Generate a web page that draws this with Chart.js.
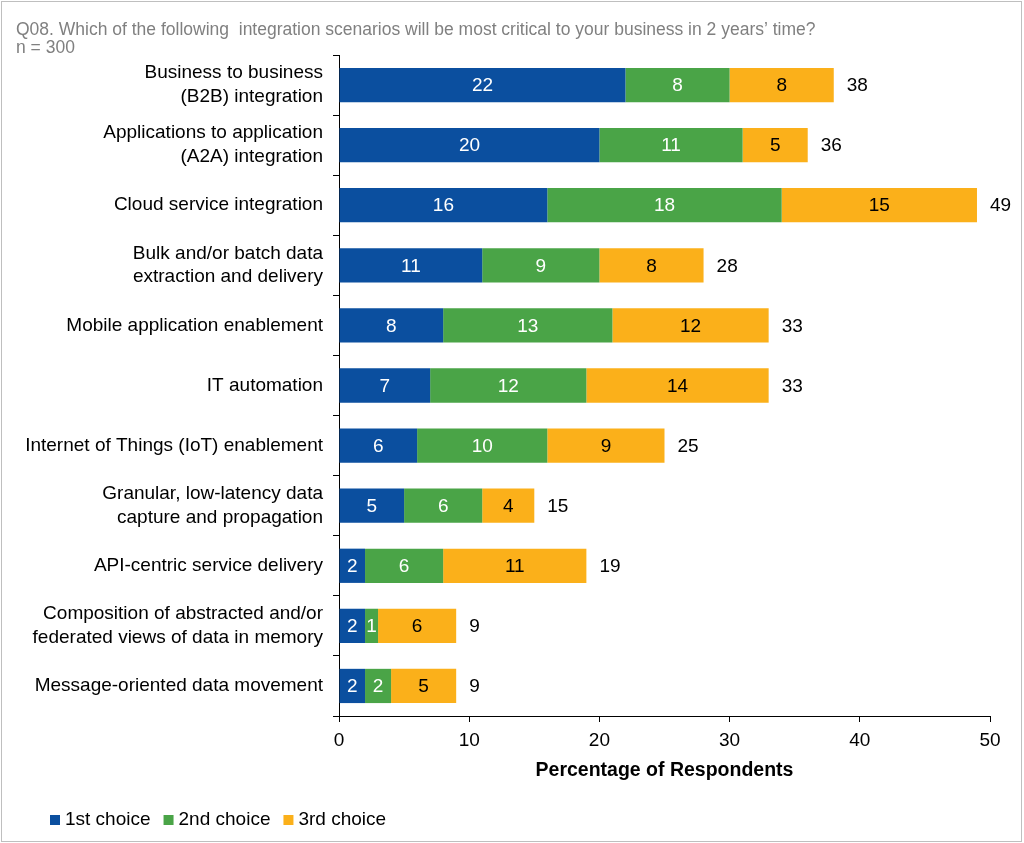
<!DOCTYPE html>
<html>
<head>
<meta charset="utf-8">
<title>Integration scenarios</title>
<script src="https://cdn.jsdelivr.net/npm/chart.js@4/dist/chart.umd.min.js"></script>
<style>
  body { margin: 0; background: #fff; }
  canvas { display: block; }
</style>
</head>
<body>
<canvas id="grafico" width="1024" height="843"></canvas>
<script>
// Dados
const categorias = [
  ['Business to business', '(B2B) integration'],
  ['Applications to application', '(A2A) integration'],
  'Cloud service integration',
  ['Bulk and/or batch data', 'extraction and delivery'],
  'Mobile application enablement',
  'IT automation',
  'Internet of Things (IoT) enablement',
  ['Granular, low-latency data', 'capture and propagation'],
  'API-centric service delivery',
  ['Composition of abstracted and/or', 'federated views of data in memory'],
  'Message-oriented data movement'
];
const primeiraEscolha = [22, 20, 16, 11, 8, 7, 6, 5, 2, 2, 2];
const segundaEscolha  = [8, 11, 18, 9, 13, 12, 10, 6, 6, 1, 2];
const terceiraEscolha = [8, 5, 15, 8, 12, 14, 9, 4, 11, 6, 5];
const ticksX = [0, 10, 20, 30, 40, 50];

const FONTE = '"Liberation Sans", Arial, sans-serif';
const cores = ['#0b4f9f', '#4aa447', '#fbb01a'];
const nomes = ['1st choice', '2nd choice', '3rd choice'];

// Plugin: rótulos dentro das barras + totais
const rotulos = {
  id: 'rotulos',
  afterDatasetsDraw(chart) {
    const ctx = chart.ctx;
    ctx.save();
    ctx.font = '19px ' + FONTE;
    ctx.textBaseline = 'middle';
    chart.data.datasets.forEach((ds, i) => {
      const meta = chart.getDatasetMeta(i);
      meta.data.forEach((bar, j) => {
        ctx.fillStyle = i === 2 ? '#000' : '#fff';
        ctx.textAlign = 'center';
        ctx.fillText(String(ds.data[j]), (bar.x + bar.base) / 2, bar.y + 1);
        if (i === chart.data.datasets.length - 1) {
          const total = chart.data.datasets.reduce((s, d) => s + d.data[j], 0);
          ctx.fillStyle = '#000';
          ctx.textAlign = 'left';
          ctx.fillText(String(total), bar.x + 13, bar.y + 1);
        }
      });
    });
    ctx.restore();
  }
};

// Plugin: título, legenda e moldura
const extras = {
  id: 'extras',
  afterDraw(chart) {
    const ctx = chart.ctx;
    ctx.save();
    ctx.fillStyle = '#808080';
    ctx.font = '17.5px ' + FONTE;
    ctx.textAlign = 'left';
    ctx.textBaseline = 'middle';
    ctx.fillText('Q08. Which of the following  integration scenarios will be most critical to your business in 2 years\u2019 time?', 16, 30);
    ctx.fillText('n = 300', 16, 48);

    // legenda
    ctx.font = '19px ' + FONTE;
    let x = 50;
    const y = 820;
    nomes.forEach((n, i) => {
      ctx.fillStyle = cores[i];
      ctx.fillRect(x, y - 5, 10, 10);
      ctx.fillStyle = '#000';
      ctx.fillText(n, x + 15, y);
      x += 15 + ctx.measureText(n).width + 13;
    });

    ctx.strokeStyle = '#bfbfbf';
    ctx.lineWidth = 1;
    ctx.strokeRect(1.5, 1.5, 1020, 840);
    ctx.restore();
  }
};

new Chart(document.getElementById('grafico'), {
  type: 'bar',
  data: {
    labels: categorias,
    datasets: [
      { label: nomes[0], data: primeiraEscolha, backgroundColor: cores[0] },
      { label: nomes[1], data: segundaEscolha, backgroundColor: cores[1] },
      { label: nomes[2], data: terceiraEscolha, backgroundColor: cores[2] }
    ]
  },
  options: {
    indexAxis: 'y',
    responsive: false,
    animation: false,
    barPercentage: 0.57,
    categoryPercentage: 1,
    layout: { padding: { top: 55, left: 0, right: 34, bottom: 61 } },
    plugins: {
      legend: { display: false },
      title: { display: false },
      tooltip: { enabled: false }
    },
    scales: {
      x: {
        stacked: true,
        min: 0,
        max: 50,
        afterBuildTicks: (scale) => { scale.ticks = ticksX.map(v => ({ value: v })); },
        afterFit: (scale) => { scale.height = 66; },
        ticks: { color: '#000', font: { family: FONTE, size: 19 }, padding: 7, maxRotation: 0 },
        grid: { drawOnChartArea: false, drawTicks: true, tickLength: 6, color: '#000' },
        border: { display: true, color: '#000', width: 1 },
        title: {
          display: true,
          text: 'Percentage of Respondents',
          color: '#000',
          font: { family: FONTE, size: 19.5, weight: 'bold' },
          padding: { top: 0, bottom: 0 }
        }
      },
      y: {
        stacked: true,
        afterFit: (scale) => { scale.width = 339; },
        ticks: { color: '#000', font: { family: FONTE, size: 19, lineHeight: 1.25 }, padding: 10, autoSkip: false },
        grid: { offset: true, drawOnChartArea: false, drawTicks: true, tickLength: 6, color: '#000' },
        border: { display: true, color: '#000', width: 1 }
      }
    }
  },
  plugins: [rotulos, extras]
});
</script>
</body>
</html>
